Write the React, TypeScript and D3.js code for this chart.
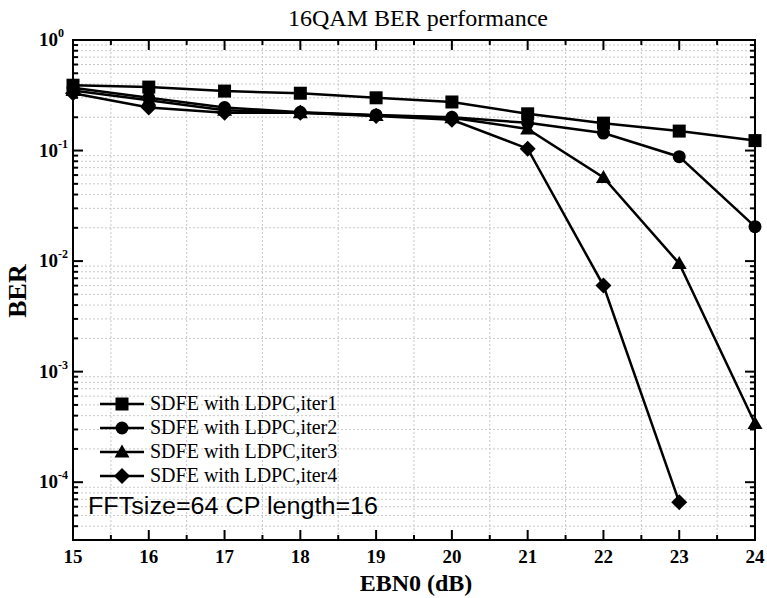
import React from "react";
import * as d3 from "d3";

const ebn0 = [15, 16, 17, 18, 19, 20, 21, 22, 23, 24];
const iter1 = [0.39, 0.375, 0.345, 0.33, 0.3, 0.275, 0.215, 0.177, 0.15, 0.123];
const iter2 = [0.37, 0.3, 0.245, 0.222, 0.21, 0.2, 0.178, 0.144, 0.088, 0.0205];
const iter3 = [0.35, 0.285, 0.232, 0.22, 0.208, 0.198, 0.157, 0.057, 0.0095, 0.00034];
const iter4 = [0.33, 0.245, 0.22, 0.22, 0.205, 0.19, 0.104, 0.006, 0.000066];
const seriesNames = [
  "SDFE with LDPC,iter1",
  "SDFE with LDPC,iter2",
  "SDFE with LDPC,iter3",
  "SDFE with LDPC,iter4",
];
const markerTypes = ["square", "circle", "triangle", "diamond"];
const xTicks = [15, 16, 17, 18, 19, 20, 21, 22, 23, 24];
const yExponents = [0, -1, -2, -3, -4];
const yDomain = [3e-5, 1];

const W = 767;
const H = 598;
const M = { left: 73, right: 755, top: 40, bottom: 540 };

function Marker({ type, x, y }: { type: string; x: number; y: number }) {
  if (type === "square") return <rect x={x - 6.5} y={y - 6.5} width={13} height={13} fill="#000" />;
  if (type === "circle") return <circle cx={x} cy={y} r={6.5} fill="#000" />;
  if (type === "triangle")
    return <path d={`M${x},${y - 7.5}L${x + 7.5},${y + 5.5}L${x - 7.5},${y + 5.5}Z`} fill="#000" />;
  return <path d={`M${x},${y - 8}L${x + 8},${y}L${x},${y + 8}L${x - 8},${y}Z`} fill="#000" />;
}

export default function App() {
  const x = d3.scaleLinear().domain([15, 24]).range([M.left, M.right]);
  const y = d3.scaleLog().domain(yDomain).range([M.bottom, M.top]);
  const series = [iter1, iter2, iter3, iter4];
  const line = d3
    .line<[number, number]>()
    .x((d) => x(d[0]))
    .y((d) => y(d[1]));

  const minorX: number[] = [];
  for (let v = 15.5; v < 24; v += 1) minorX.push(v);
  const minorY: number[] = [];
  for (let e = -5; e < 0; e++) {
    for (let m = 2; m <= 9; m++) {
      const v = m * Math.pow(10, e);
      if (v > yDomain[0] && v < 1) minorY.push(v);
    }
  }
  const serif = "'Liberation Serif', 'Times New Roman', serif";
  const legendY = [404, 428, 452, 476];

  return (
    <svg width={W} height={H} style={{ position: "absolute", left: 0, top: 0, background: "#fff" }}>
      <rect width={W} height={H} fill="#fff" />
      {/* grid */}
      {minorX.map((v) => (
        <line key={"gx" + v} x1={x(v)} x2={x(v)} y1={M.top} y2={M.bottom} stroke="#c8c8c8" strokeDasharray="2,2" />
      ))}
      {minorY.map((v) => (
        <line key={"gy" + v} x1={M.left} x2={M.right} y1={y(v)} y2={y(v)} stroke="#c8c8c8" strokeDasharray="2,2" />
      ))}
      {/* ticks */}
      {xTicks.map((v) => (
        <g key={"xt" + v}>
          <line x1={x(v)} x2={x(v)} y1={M.bottom} y2={M.bottom - 10} stroke="#000" strokeWidth={2} />
          <line x1={x(v)} x2={x(v)} y1={M.top} y2={M.top + 10} stroke="#000" strokeWidth={2} />
          <text x={x(v)} y={563} textAnchor="middle" fontFamily={serif} fontWeight="bold" fontSize={19}>
            {v}
          </text>
        </g>
      ))}
      {minorX.map((v) => (
        <g key={"xm" + v}>
          <line x1={x(v)} x2={x(v)} y1={M.bottom} y2={M.bottom - 5} stroke="#000" strokeWidth={2} />
          <line x1={x(v)} x2={x(v)} y1={M.top} y2={M.top + 5} stroke="#000" strokeWidth={2} />
        </g>
      ))}
      {yExponents.map((e) => {
        const yy = y(Math.pow(10, e));
        return (
          <g key={"yt" + e}>
            <line x1={M.left} x2={M.left + 10} y1={yy} y2={yy} stroke="#000" strokeWidth={2} />
            <line x1={M.right} x2={M.right - 10} y1={yy} y2={yy} stroke="#000" strokeWidth={2} />
            <text x={39} y={yy + 6} fontFamily={serif} fontWeight="bold" fontSize={19}>
              10
              <tspan dy={-9} fontSize={12}>
                {e === 0 ? "0" : String(e)}
              </tspan>
            </text>
          </g>
        );
      })}
      {minorY.map((v) => (
        <g key={"ym" + v}>
          <line x1={M.left} x2={M.left + 5} y1={y(v)} y2={y(v)} stroke="#000" strokeWidth={2} />
          <line x1={M.right} x2={M.right - 5} y1={y(v)} y2={y(v)} stroke="#000" strokeWidth={2} />
        </g>
      ))}
      {/* frame */}
      <rect x={M.left} y={M.top} width={M.right - M.left} height={M.bottom - M.top} fill="none" stroke="#000" strokeWidth={2} />
      {/* series */}
      {series.map((s, i) => {
        const pts = s.map((v, j) => [ebn0[j], v] as [number, number]);
        return (
          <g key={"s" + i}>
            <path d={line(pts) || ""} fill="none" stroke="#000" strokeWidth={2.5} />
            {pts.map((p, j) => (
              <Marker key={j} type={markerTypes[i]} x={x(p[0])} y={y(p[1])} />
            ))}
          </g>
        );
      })}
      {/* legend */}
      {seriesNames.map((n, i) => (
        <g key={"lg" + i}>
          <line x1={100} x2={144} y1={legendY[i]} y2={legendY[i]} stroke="#000" strokeWidth={2.5} />
          <Marker type={markerTypes[i]} x={122} y={legendY[i]} />
          <text x={150} y={legendY[i] + 6} fontFamily={serif} fontSize={20}>
            {n}
          </text>
        </g>
      ))}
      <text
        x={88}
        y={514}
        fontFamily="'Liberation Sans', Arial, sans-serif"
        fontSize={23}
        textLength={290}
        lengthAdjust="spacingAndGlyphs"
      >
        FFTsize=64 CP length=16
      </text>
      {/* titles */}
      <text x={418} y={26} textAnchor="middle" fontFamily={serif} fontSize={24}>
        16QAM BER performance
      </text>
      <text x={416} y={591} textAnchor="middle" fontFamily={serif} fontWeight="bold" fontSize={24}>
        EBN0 (dB)
      </text>
      <text
        transform={`translate(26,${291}) rotate(-90)`}
        textAnchor="middle"
        fontFamily={serif}
        fontWeight="bold"
        fontSize={26}
      >
        BER
      </text>
    </svg>
  );
}
